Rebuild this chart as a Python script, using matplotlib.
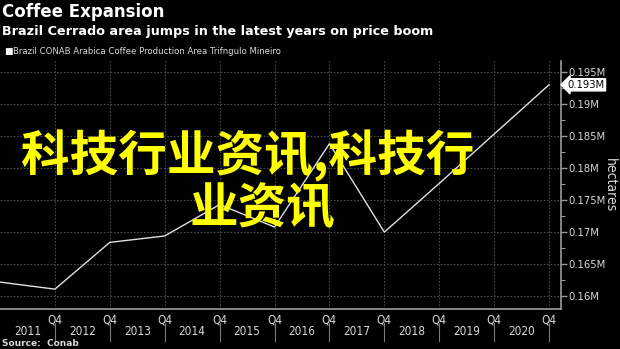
import numpy as np
import matplotlib
matplotlib.use('Agg')
import matplotlib.pyplot as plt
from matplotlib.ticker import FixedLocator, MultipleLocator, FuncFormatter

## data (hectares, Q4 of each year)
years = [2010, 2011, 2012, 2013, 2014, 2015, 2016, 2017, 2018, 2019, 2020]
area = [0.1622, 0.1611, 0.1684, 0.1694, 0.1743, 0.1708, 0.1838, 0.1700, 0.1776, 0.1853, 0.1930]
year_labels = ['2011', '2012', '2013', '2014', '2015', '2016', '2017', '2018', '2019', '2020']
y_ticks = [0.16, 0.165, 0.17, 0.175, 0.18, 0.185, 0.19, 0.195]
last_label = '0.193M'

bg = 'black'
fg = '#d9d9d9'
grid_c = '#4a4a4a'
narrow = dict(family='DejaVu Sans', stretch='condensed')

fig = plt.figure(figsize=(6.2, 3.49), dpi=100, facecolor=bg)
ax = fig.add_axes([0.0, 0.1146, 0.905, 0.7104], facecolor=bg)

ax.plot(years, area, color='#e0e0e0', lw=1.0, zorder=3)

ax.set_xlim(2010, 2020.22)
ax.set_ylim(0.158, 0.1967)

# y axis on the right, Bloomberg style
ax.yaxis.tick_right()
ax.yaxis.set_major_locator(FixedLocator(y_ticks))
ax.yaxis.set_minor_locator(MultipleLocator(0.0025))
ax.yaxis.set_major_formatter(FuncFormatter(lambda v, p: ('%.3f' % v).rstrip('0') + 'M'))
ax.tick_params(axis='y', which='major', colors='#9a9a9a', labelcolor=fg, length=4, width=1,
               labelsize=8, pad=1)
ax.tick_params(axis='y', which='minor', colors='#9a9a9a', length=3, width=0.8)
for lab in ax.get_yticklabels():
    lab.set_family(narrow['family'])
    lab.set_stretch(narrow['stretch'])

ax.xaxis.set_major_locator(FixedLocator(years[1:]))
ax.set_xticklabels(['Q4'] * len(years[1:]), fontsize=8.5, color=fg, **narrow)
ax.tick_params(axis='x', length=0, pad=3)

ax.grid(True, which='major', color=grid_c, ls=(0, (1.5, 1.5)), lw=0.8)

for s in ['top', 'left']:
    ax.spines[s].set_visible(False)
for s in ['bottom', 'right']:
    ax.spines[s].set_color('#9a9a9a')
    ax.spines[s].set_linewidth(1.2)

# year labels and separators under the Q4 ticks
trans = ax.get_xaxis_transform()
for i, yl in enumerate(year_labels):
    x = years[i + 1] - 0.5
    ax.text(x, -0.092, yl, transform=trans, ha='center', va='center',
            fontsize=8.5, color=fg, clip_on=False, **narrow)
for yr in years[1:]:
    ax.plot([yr, yr], [-0.055, -0.13], transform=trans, color='#7a7a7a', lw=0.8, clip_on=False)

# last value tag
ax.annotate(last_label, xy=(1.0, area[-1]), xycoords=('axes fraction', 'data'),
            xytext=(4.5, 0), textcoords='offset points', ha='left', va='center',
            fontsize=8, color='black',
            bbox=dict(boxstyle='larrow,pad=0.1', fc='white', ec='white'), **narrow)

fig.text(0.984, 0.47, 'hectares', rotation=270, ha='center', va='center',
         fontsize=10, color=fg, **narrow)

# titles
fig.text(0.003, 0.965, 'Coffee Expansion', fontsize=12, fontweight='bold', color='white',
         ha='left', va='center')
fig.text(0.003, 0.91, 'Brazil Cerrado area jumps in the latest years on price boom',
         fontsize=9.2, fontweight='bold', color='white', ha='left', va='center')
fig.text(0.006, 0.852, '\u25a0', fontsize=6.5, color='white', ha='left', va='center')
fig.text(0.021, 0.852, 'Brazil CONAB Arabica Coffee Production Area Trifngulo Mineiro',
         fontsize=6.8, color=fg, ha='left', va='center', **narrow)
fig.text(0.004, 0.017, 'Source:  Conab', fontsize=6.5, fontweight='bold', color=fg,
         ha='left', va='center')

# yellow overlay caption
cjk = ['Noto Sans CJK SC', 'DejaVu Sans']
fig.text(0.40, 0.553, '科技行业资讯,科技行', fontsize=35, fontweight='bold', color='#ffff00',
         family=cjk, ha='center', va='center', zorder=10)
fig.text(0.423, 0.40, '业资讯', fontsize=35, fontweight='bold', color='#ffff00',
         family=cjk, ha='center', va='center', zorder=10)

fig.savefig('out.png', dpi=100, facecolor=bg)
